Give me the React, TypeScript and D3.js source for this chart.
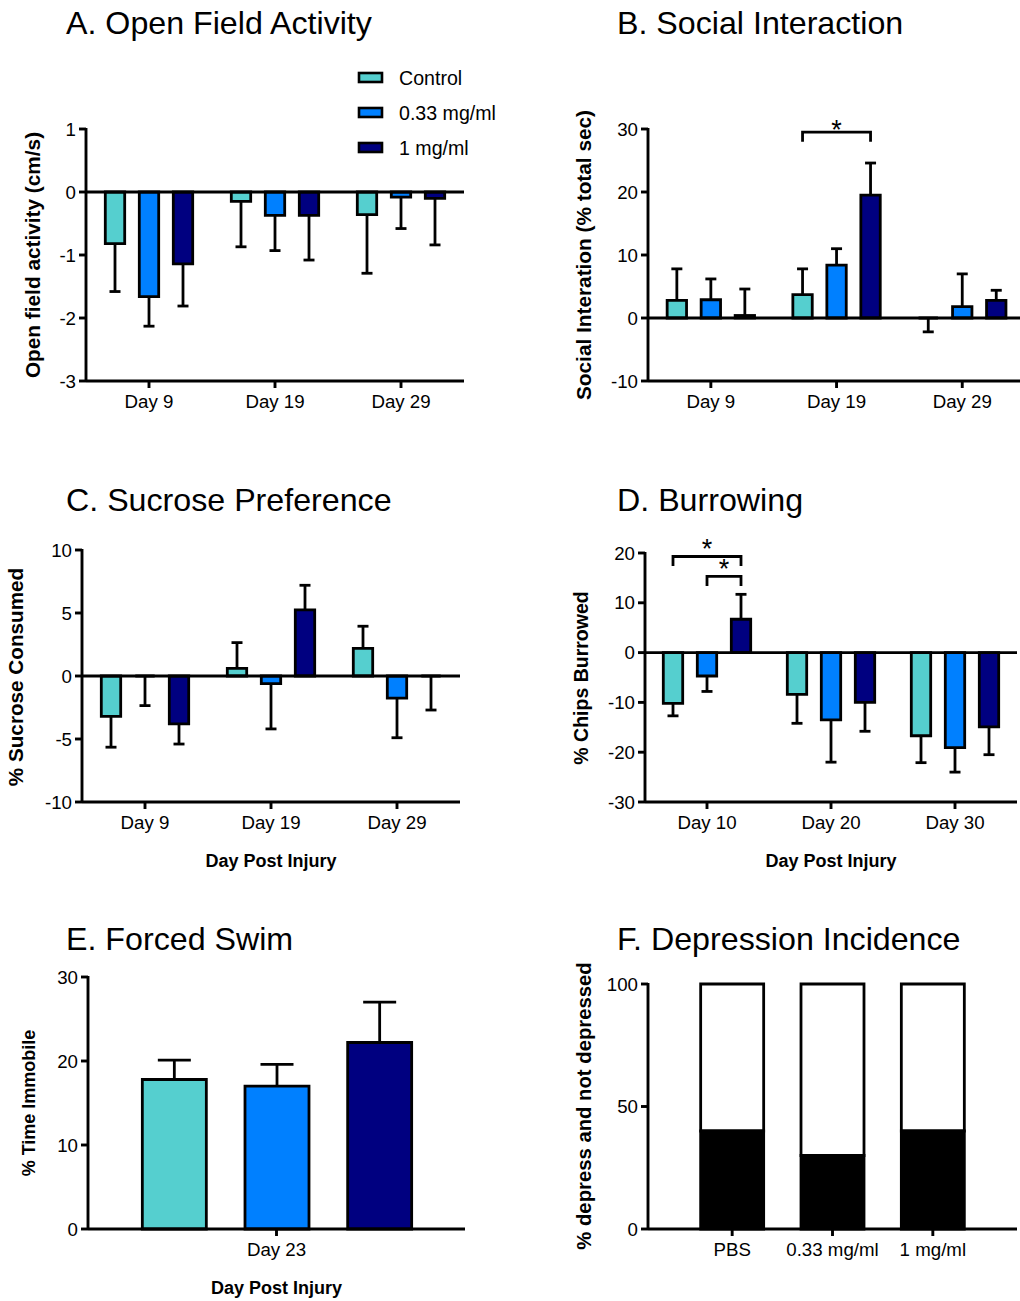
import React from "react";
import * as d3 from "d3";

// ---------- data ----------
const seriesNames = ["Control", "0.33 mg/ml", "1 mg/ml"];
const seriesColors = ["#55CFCF", "#0080FF", "#000080"];

const openFieldDays = ["Day 9", "Day 19", "Day 29"];
const openFieldMean = [
  [-0.82, -1.66, -1.14],
  [-0.15, -0.37, -0.37],
  [-0.36, -0.08, -0.1],
];
const openFieldErrEnd = [
  [-1.58, -2.13, -1.81],
  [-0.87, -0.93, -1.08],
  [-1.29, -0.58, -0.84],
];
const openFieldTicks = [-3, -2, -1, 0, 1];

const socialDays = ["Day 9", "Day 19", "Day 29"];
const socialMean = [
  [2.8, 2.9, 0.4],
  [3.7, 8.4, 19.5],
  [0, 1.8, 2.8],
];
const socialErrEnd = [
  [7.8, 6.2, 4.6],
  [7.8, 11.0, 24.6],
  [-2.2, 7.0, 4.4],
];
const socialTicks = [-10, 0, 10, 20, 30];
const socialSig = [{ day: 1, from: 0, to: 2, level: 29.5 }];

const sucroseDays = ["Day 9", "Day 19", "Day 29"];
const sucroseMean = [
  [-3.2, 0, -3.8],
  [0.6, -0.6, 5.25],
  [2.2, -1.75, 0],
];
const sucroseErrEnd = [
  [-5.65, -2.35, -5.4],
  [2.65, -4.2, 7.2],
  [3.95, -4.9, -2.7],
];
const sucroseTicks = [-10, -5, 0, 5, 10];

const burrowDays = ["Day 10", "Day 20", "Day 30"];
const burrowMean = [
  [-10.2, -4.7, 6.7],
  [-8.4, -13.5, -10.0],
  [-16.7, -19.1, -14.9],
];
const burrowErrEnd = [
  [-12.7, -7.8, 11.7],
  [-14.2, -22.0, -15.8],
  [-22.1, -24.0, -20.5],
];
const burrowTicks = [-30, -20, -10, 0, 10, 20];
const burrowSig = [
  { day: 0, from: 0, to: 2, level: 19.3 },
  { day: 0, from: 1, to: 2, level: 15.3 },
];

const swimDay = "Day 23";
const swimMean = [17.8, 17.0, 22.2];
const swimErrEnd = [20.1, 19.6, 27.0];
const swimTicks = [0, 10, 20, 30];

const depGroups = ["PBS", "0.33 mg/ml", "1 mg/ml"];
const depDepressed = [40, 30, 40];
const depTotal = [100, 100, 100];
const depTicks = [0, 50, 100];

// ---------- style ----------
const FONT = "'Liberation Sans', Arial, Helvetica, sans-serif";
const AXW = 2.9;
const BARW = 2.8;
const TICK_FS = 18.7;

function barPath(x: number, w: number, y0: number, y1: number) {
  return `M${x},${y0}H${x + w}V${y1}H${x}Z`;
}

function YAxis({ x0, y, ticks }: any) {
  const [r0, r1] = y.range();
  return (
    <g>
      <line x1={x0} x2={x0} y1={r1 - 1} y2={r0 + 1} stroke="#000" strokeWidth={AXW} />
      {ticks.map((t: number) => (
        <g key={t}>
          <line x1={x0 - 7} x2={x0} y1={y(t)} y2={y(t)} stroke="#000" strokeWidth={AXW} />
          <text x={x0 - 10} y={y(t) + 6.6} textAnchor="end" fontSize={TICK_FS} fontFamily={FONT}>
            {t}
          </text>
        </g>
      ))}
    </g>
  );
}

function YTitle({ x, yc, text, size }: any) {
  return (
    <text
      transform={`translate(${x},${yc}) rotate(-90)`}
      textAnchor="middle"
      fontSize={size}
      fontWeight="bold"
      fontFamily={FONT}
    >
      {text}
    </text>
  );
}

function Title({ x, y, text }: any) {
  return (
    <text x={x} y={y} fontSize={32.2} fontFamily={FONT}>
      {text}
    </text>
  );
}

function GroupPanel(p: any) {
  const { x0, bw, yDomain, yRange, ticks, cats, mean, errEnd, sig, starDy } = p;
  const x = d3.scaleBand<string>().domain(cats).range([x0, x0 + bw * cats.length]);
  const inner = d3.scalePoint<string>().domain(seriesNames).range([-34, 34]);
  const y = d3.scaleLinear().domain(yDomain).range(yRange);
  const bwid = 19.4;
  const xEnd = x0 + bw * cats.length;
  return (
    <g>
      {cats.map((c: string, i: number) =>
        seriesNames.map((s, j) => {
          const cx = (x(c) as number) + x.bandwidth() / 2 + (inner(s) as number);
          const v = mean[i][j];
          const e = errEnd[i][j];
          return (
            <g key={c + s}>
              <line x1={cx} x2={cx} y1={y(v)} y2={y(e)} stroke="#000" strokeWidth={BARW} />
              <line x1={cx - 5.5} x2={cx + 5.5} y1={y(e)} y2={y(e)} stroke="#000" strokeWidth={BARW} />
              <path
                d={barPath(cx - bwid / 2, bwid, y(0), y(v))}
                fill={seriesColors[j]}
                stroke="#000"
                strokeWidth={BARW}
              />
            </g>
          );
        })
      )}
      <line x1={x0} x2={xEnd} y1={y(0)} y2={y(0)} stroke="#000" strokeWidth={AXW} />
      <line x1={x0} x2={xEnd} y1={yRange[0]} y2={yRange[0]} stroke="#000" strokeWidth={AXW} />
      {cats.map((c: string) => {
        const cx = (x(c) as number) + x.bandwidth() / 2;
        return (
          <g key={c}>
            <line x1={cx} x2={cx} y1={yRange[0]} y2={yRange[0] + 7} stroke="#000" strokeWidth={AXW} />
            <text x={cx} y={yRange[0] + 27} textAnchor="middle" fontSize={TICK_FS} fontFamily={FONT}>
              {c}
            </text>
          </g>
        );
      })}
      <YAxis x0={x0} y={y} ticks={ticks} />
      {(sig || []).map((s: any, k: number) => {
        const c = cats[s.day];
        const base = (x(c) as number) + x.bandwidth() / 2;
        const xa = base + (inner(seriesNames[s.from]) as number);
        const xb = base + (inner(seriesNames[s.to]) as number);
        const yt = y(s.level);
        return (
          <g key={k}>
            <path
              d={`M${xa},${yt + 9.5}V${yt}H${xb}V${yt + 9.5}`}
              fill="none"
              stroke="#000"
              strokeWidth={BARW}
            />
            <text x={(xa + xb) / 2} y={yt + starDy} textAnchor="middle" fontSize={27} fontFamily={FONT}>
              *
            </text>
          </g>
        );
      })}
      {p.xlabel ? (
        <text
          x={(x0 + xEnd) / 2}
          y={yRange[0] + 65}
          textAnchor="middle"
          fontSize={18}
          fontWeight="bold"
          fontFamily={FONT}
        >
          {p.xlabel}
        </text>
      ) : null}
    </g>
  );
}

function SwimPanel() {
  const x0 = 88;
  const xEnd = 465;
  const x = d3.scaleBand<string>().domain(seriesNames).range([123, 431]);
  const y = d3.scaleLinear().domain([0, 30]).range([1229, 977]);
  const bwid = 64;
  return (
    <g>
      {seriesNames.map((s, j) => {
        const cx = (x(s) as number) + x.bandwidth() / 2;
        const v = swimMean[j];
        const e = swimErrEnd[j];
        return (
          <g key={s}>
            <line x1={cx} x2={cx} y1={y(v)} y2={y(e)} stroke="#000" strokeWidth={BARW} />
            <line x1={cx - 16.5} x2={cx + 16.5} y1={y(e)} y2={y(e)} stroke="#000" strokeWidth={BARW} />
            <path d={barPath(cx - bwid / 2, bwid, y(0), y(v))} fill={seriesColors[j]} stroke="#000" strokeWidth={BARW} />
          </g>
        );
      })}
      <line x1={x0} x2={xEnd} y1={y(0)} y2={y(0)} stroke="#000" strokeWidth={AXW} />
      <line x1={(x0 + xEnd) / 2} x2={(x0 + xEnd) / 2} y1={y(0)} y2={y(0) + 7} stroke="#000" strokeWidth={AXW} />
      <text x={(x0 + xEnd) / 2} y={y(0) + 27} textAnchor="middle" fontSize={TICK_FS} fontFamily={FONT}>
        {swimDay}
      </text>
      <YAxis x0={x0} y={y} ticks={swimTicks} />
      <text x={(x0 + xEnd) / 2} y={1294} textAnchor="middle" fontSize={18} fontWeight="bold" fontFamily={FONT}>
        Day Post Injury
      </text>
    </g>
  );
}

function DepressionPanel() {
  const x0 = 648;
  const xEnd = 1017;
  const x = d3.scaleBand<string>().domain(depGroups).range([682, 983]);
  const y = d3.scaleLinear().domain([0, 100]).range([1229, 984]);
  const bwid = 63;
  return (
    <g>
      {depGroups.map((g, i) => {
        const cx = (x(g) as number) + x.bandwidth() / 2;
        return (
          <g key={g}>
            <path d={barPath(cx - bwid / 2, bwid, y(depDepressed[i]), y(depTotal[i]))} fill="#fff" stroke="#000" strokeWidth={BARW} />
            <path d={barPath(cx - bwid / 2, bwid, y(0), y(depDepressed[i]))} fill="#000" stroke="#000" strokeWidth={BARW} />
            <line x1={cx} x2={cx} y1={y(0)} y2={y(0) + 7} stroke="#000" strokeWidth={AXW} />
            <text x={cx} y={y(0) + 27} textAnchor="middle" fontSize={TICK_FS} fontFamily={FONT}>
              {g}
            </text>
          </g>
        );
      })}
      <line x1={x0} x2={xEnd} y1={y(0)} y2={y(0)} stroke="#000" strokeWidth={AXW} />
      <YAxis x0={x0} y={y} ticks={depTicks} />
    </g>
  );
}

function Legend() {
  return (
    <g>
      {seriesNames.map((s, j) => {
        const cy = 77.5 + j * 35;
        return (
          <g key={s}>
            <rect x={359} y={cy - 4.5} width={23} height={9} fill={seriesColors[j]} stroke="#000" strokeWidth={2.6} />
            <text x={399} y={cy + 7} fontSize={19.6} fontFamily={FONT}>
              {s}
            </text>
          </g>
        );
      })}
    </g>
  );
}

export default function App() {
  return (
    <div style={{ position: "absolute", left: 0, top: 0 }}>
      <svg width={1020} height={1301} style={{ display: "block", background: "#fff" }}>
        <Title x={66} y={33.5} text="A. Open Field Activity" />
        <Title x={617} y={33.5} text="B. Social Interaction" />
        <Title x={66} y={510.5} text="C. Sucrose Preference" />
        <Title x={617} y={510.5} text="D. Burrowing" />
        <Title x={66} y={949.5} text="E. Forced Swim" />
        <Title x={617} y={949.5} text="F. Depression Incidence" />

        <Legend />

        <GroupPanel
          x0={86}
          bw={126}
          yDomain={[-3, 1]}
          yRange={[381, 129]}
          ticks={openFieldTicks}
          cats={openFieldDays}
          mean={openFieldMean}
          errEnd={openFieldErrEnd}
        />
        <YTitle x={40} yc={255} text="Open field activity (cm/s)" size={20.8} />

        <GroupPanel
          x0={648}
          bw={125.7}
          yDomain={[-10, 30]}
          yRange={[381, 129]}
          ticks={socialTicks}
          cats={socialDays}
          mean={socialMean}
          errEnd={socialErrEnd}
          sig={socialSig}
          starDy={7}
        />
        <YTitle x={591} yc={255} text="Social Interation (% total sec)" size={20.8} />

        <GroupPanel
          x0={82}
          bw={126}
          yDomain={[-10, 10]}
          yRange={[802, 550]}
          ticks={sucroseTicks}
          cats={sucroseDays}
          mean={sucroseMean}
          errEnd={sucroseErrEnd}
          xlabel="Day Post Injury"
        />
        <YTitle x={23} yc={677} text="% Sucrose Consumed" size={20.7} />

        <GroupPanel
          x0={645}
          bw={124}
          yDomain={[-30, 20]}
          yRange={[802, 553]}
          ticks={burrowTicks}
          cats={burrowDays}
          mean={burrowMean}
          errEnd={burrowErrEnd}
          sig={burrowSig}
          starDy={2}
          xlabel="Day Post Injury"
        />
        <YTitle x={588} yc={678} text="% Chips Burrowed" size={19.5} />

        <SwimPanel />
        <YTitle x={35} yc={1103} text="% Time Immobile" size={18} />

        <DepressionPanel />
        <YTitle x={591} yc={1106} text="% depress and not depressed" size={20.3} />
      </svg>
    </div>
  );
}
